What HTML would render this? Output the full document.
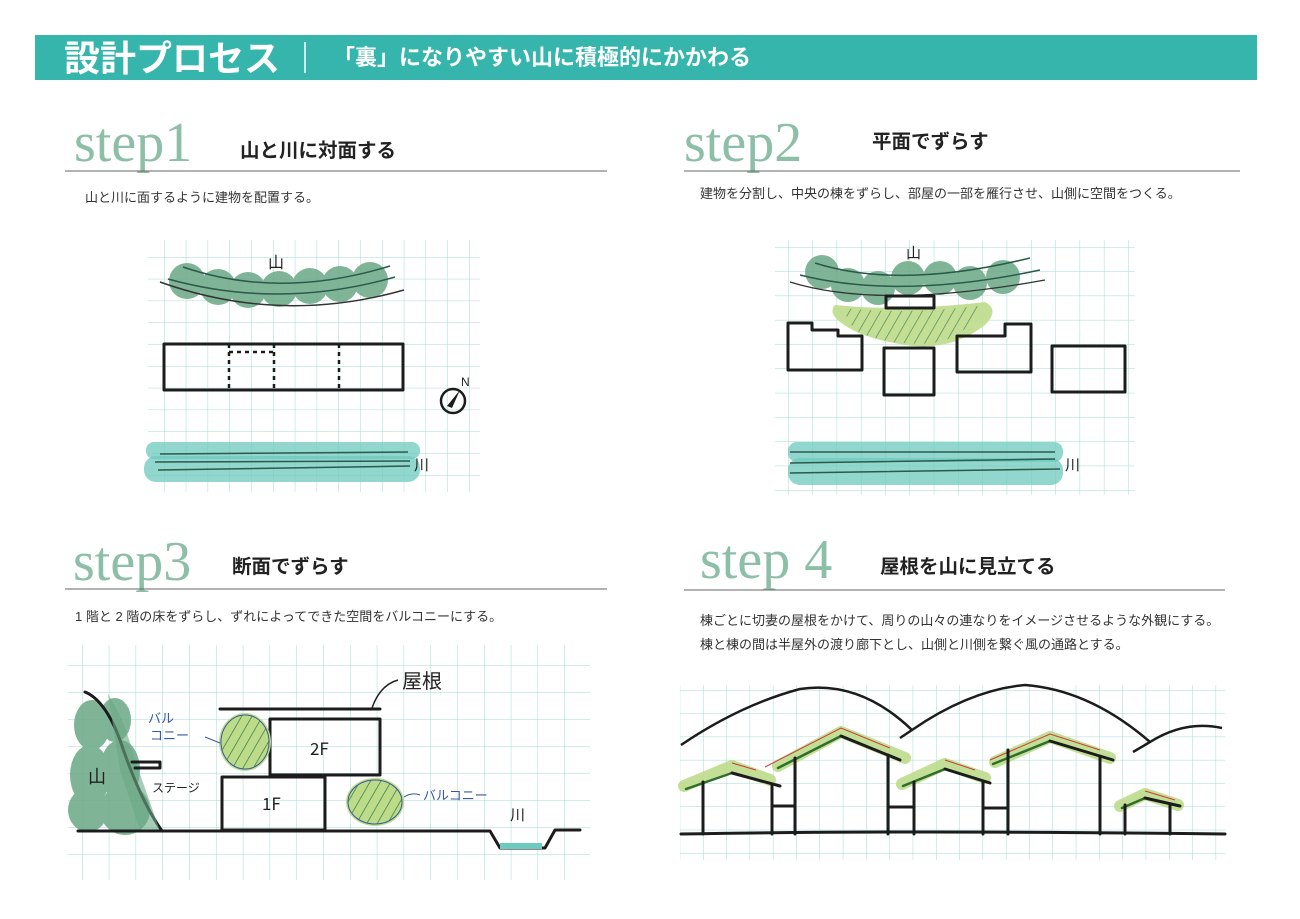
<!DOCTYPE html>
<html><head><meta charset="utf-8">
<style>
html,body{margin:0;padding:0;background:#fff;}
svg{display:block;}
text{font-family:"Liberation Sans","Noto Sans CJK JP",sans-serif;}
.st{font-family:"Liberation Serif","Noto Serif CJK SC",serif;fill:#8dbfa8;font-size:56px;}
.h{font-weight:bold;font-size:19.5px;fill:#222;}
.d{font-size:13px;fill:#333;}
.k{fill:none;stroke:#1c1c1c;stroke-width:3;stroke-linecap:round;stroke-linejoin:round;}
.t{fill:none;stroke:#2b5a4a;stroke-width:1.5;}
.hand{font-family:"Noto Sans CJK JP",sans-serif;}
</style></head><body>
<svg width="1300" height="919" viewBox="0 0 1300 919" xmlns="http://www.w3.org/2000/svg">
<defs>
<pattern id="g1" x="164" y="257" width="21.8" height="21.8" patternUnits="userSpaceOnUse"><path d="M0 0V21.8M0 0H21.8" stroke="#a6d8d6" stroke-width="1" fill="none"/></pattern>
<pattern id="g2" x="788" y="247" width="24.3" height="24.3" patternUnits="userSpaceOnUse"><path d="M0 0V24.3M0 0H24.3" stroke="#a6d8d6" stroke-width="1" fill="none"/></pattern>
<pattern id="g3" x="82" y="665" width="26.8" height="27" patternUnits="userSpaceOnUse"><path d="M0 0V27M0 0H26.8" stroke="#a6d8d6" stroke-width="1" fill="none"/></pattern>
<pattern id="g4" x="703" y="690" width="23.3" height="23.3" patternUnits="userSpaceOnUse"><path d="M0 0V23.3M0 0H23.3" stroke="#a6d8d6" stroke-width="1" fill="none"/></pattern>
<pattern id="hatch" width="9" height="9" patternUnits="userSpaceOnUse" patternTransform="rotate(30)"><line x1="0" y1="0" x2="0" y2="9" stroke="#3f7a45" stroke-width="1.5"/></pattern>
</defs>

<!-- header -->
<rect x="35" y="35" width="1222" height="45" fill="#35b5ac"/>
<text x="64" y="71" fill="#fff" font-weight="bold" font-size="36">設計プロセス</text>
<line x1="305" y1="42" x2="305" y2="73" stroke="#fff" stroke-width="1.5"/>
<text x="333" y="65" fill="#fff" font-weight="bold" font-size="22">「裏」になりやすい山に積極的にかかわる</text>

<!-- headings -->
<text class="st" x="74" y="161">step1</text>
<text class="h" x="240" y="157">山と川に対面する</text>
<line x1="65" y1="171" x2="607" y2="171" stroke="#666" stroke-width="1"/>
<text class="d" x="85" y="202">山と川に面するように建物を配置する。</text>

<text class="st" x="684" y="161">step2</text>
<text class="h" x="872" y="148">平面でずらす</text>
<line x1="684" y1="171" x2="1240" y2="171" stroke="#666" stroke-width="1"/>
<text class="d" x="700" y="198">建物を分割し、中央の棟をずらし、部屋の一部を雁行させ、山側に空間をつくる。</text>

<text class="st" x="73" y="580">step3</text>
<text class="h" x="232" y="573">断面でずらす</text>
<line x1="65" y1="589" x2="607" y2="589" stroke="#666" stroke-width="1"/>
<text class="d" x="75" y="621">1 階と 2 階の床をずらし、ずれによってできた空間をバルコニーにする。</text>

<text class="st" x="700" y="578">step 4</text>
<text class="h" x="880" y="573">屋根を山に見立てる</text>
<line x1="684" y1="590" x2="1225" y2="590" stroke="#666" stroke-width="1"/>
<text class="d" x="700" y="625">棟ごとに切妻の屋根をかけて、周りの山々の連なりをイメージさせるような外観にする。</text>
<text class="d" x="700" y="649">棟と棟の間は半屋外の渡り廊下とし、山側と川側を繋ぐ風の通路とする。</text>

<!-- grids -->
<rect x="148" y="240" width="332" height="252" fill="url(#g1)"/>
<rect x="775" y="240" width="360" height="255" fill="url(#g2)"/>
<rect x="68" y="645" width="522" height="235" fill="url(#g3)"/>
<rect x="680" y="685" width="545" height="175" fill="url(#g4)"/>

<!-- STEP1 -->
<g fill="#6aa885" opacity="0.85">
<circle cx="187" cy="281" r="18"/><circle cx="218" cy="287" r="18"/><circle cx="248" cy="290" r="18"/><circle cx="279" cy="289" r="18"/><circle cx="310" cy="286" r="18"/><circle cx="340" cy="284" r="18"/><circle cx="370" cy="280" r="18"/>
</g>
<path class="t" d="M183 267 Q280 300 390 266"/><path class="t" d="M168 279 Q280 310 395 277"/>
<path d="M160 282 Q280 325 404 290" stroke="#333" stroke-width="1.5" fill="none"/>
<text x="268" y="268" font-size="16" class="hand" fill="#222">山</text>
<rect x="164" y="344" width="239" height="46" class="k" stroke-width="2.5"/>
<g stroke="#1c1c1c" stroke-width="2.5" stroke-dasharray="4 4" fill="none"><path d="M229 344V390M274 344V390M339 344V390M229 352H274"/></g>
<circle cx="453" cy="401" r="12" fill="none" stroke="#1c1c1c" stroke-width="2.5"/>
<path d="M460 390 L452 408 L447 406 Z" fill="#1c1c1c"/>
<text x="461" y="386" font-size="12" fill="#222">N</text>
<rect x="146" y="442" width="274" height="17" rx="8" fill="#6ec9be" opacity="0.75"/>
<rect x="144" y="456" width="276" height="26" rx="12" fill="#6ec9be" opacity="0.75"/>
<path d="M160 454 L408 452 M155 462 L410 461 M158 470 L410 466" stroke="#2b5a4a" stroke-width="1.5" fill="none"/>
<text x="414" y="470" font-size="15" fill="#222" class="hand">川</text>

<!-- STEP2 -->
<g fill="#6aa885" opacity="0.85">
<circle cx="822" cy="272" r="17"/><circle cx="848" cy="285" r="17"/><circle cx="878" cy="288" r="17"/><circle cx="908" cy="278" r="17"/><circle cx="940" cy="278" r="17"/><circle cx="970" cy="283" r="17"/><circle cx="1003" cy="277" r="17"/>
</g>
<path class="t" d="M815 263 Q900 290 1030 258"/><path class="t" d="M800 275 Q900 300 1040 270"/>
<path d="M790 282 Q880 310 1045 280" stroke="#333" stroke-width="1.3" fill="none"/>
<text x="906" y="258" font-size="15" class="hand" fill="#222">山</text>
<path d="M835 305 Q900 312 985 302 Q1000 310 985 325 Q950 352 905 345 Q860 338 840 322 Q828 312 835 305 Z" fill="#bcdc8a" opacity="0.9"/>
<path d="M845 308 Q900 315 978 306 Q975 330 940 342 Q900 348 860 333 Q845 322 845 308 Z" fill="url(#hatch)" opacity="0.8"/>
<rect x="886" y="296" width="48" height="12" class="k" stroke-width="2.5" fill="#fff"/>
<path class="k" stroke-width="2.5" d="M788 323H812V330H838V336H862V370H788Z"/>
<rect x="884" y="348" width="50" height="47" class="k" stroke-width="2.5"/>
<path class="k" stroke-width="2.5" d="M957 336H1005V324H1031V372H957Z"/>
<rect x="1052" y="346" width="73" height="46" class="k" stroke-width="2.5"/>
<rect x="788" y="442" width="275" height="20" rx="9" fill="#6ec9be" opacity="0.75"/>
<rect x="788" y="458" width="275" height="27" rx="12" fill="#6ec9be" opacity="0.75"/>
<path d="M790 452 L1055 452 M790 463 L1055 459 M790 473 L1060 469" stroke="#2b5a4a" stroke-width="1.5" fill="none"/>
<text x="1065" y="470" font-size="15" fill="#222" class="hand">川</text>

<!-- STEP3 -->
<g fill="#6aa885" opacity="0.85">
<ellipse cx="92" cy="725" rx="18" ry="25"/><ellipse cx="115" cy="720" rx="16" ry="22"/><ellipse cx="90" cy="775" rx="20" ry="30"/><ellipse cx="120" cy="770" rx="20" ry="30"/><ellipse cx="88" cy="810" rx="20" ry="22"/><ellipse cx="125" cy="810" rx="25" ry="25"/>
</g>
<path d="M85 692 Q105 700 120 740 Q140 800 162 831" class="k"/>
<path d="M108 694 Q125 720 135 760 L160 831 L140 831 L120 770 Z" fill="#6aa885" opacity="0.6"/>
<text x="88" y="783" font-size="18" class="hand" fill="#222">山</text>
<path d="M132 762H160V768H135" class="k" stroke-width="2.5"/>
<text x="152" y="792" font-size="12" class="hand" fill="#222">ステージ</text>
<line x1="220" y1="709" x2="380" y2="709" class="k"/>
<path d="M372 708 Q380 685 398 680" fill="none" stroke="#222" stroke-width="1.5"/>
<text x="402" y="688" font-size="20" class="hand" fill="#222">屋根</text>
<rect x="270" y="719" width="110" height="56" class="k"/>
<text x="310" y="755" font-size="17" class="hand" fill="#222">2F</text>
<rect x="222" y="777" width="103" height="53" class="k"/>
<text x="262" y="810" font-size="17" class="hand" fill="#222">1F</text>
<ellipse cx="245" cy="742" rx="26" ry="29" fill="#bcdc8a"/><ellipse cx="245" cy="742" rx="24" ry="27" fill="url(#hatch)" stroke="#3a58a0" stroke-width="1"/>
<ellipse cx="375" cy="802" rx="29" ry="24" fill="#bcdc8a"/><ellipse cx="375" cy="802" rx="27" ry="22" fill="url(#hatch)" stroke="#3a58a0" stroke-width="1"/>
<text x="148" y="723" font-size="13" class="hand" fill="#3a58a0">バル</text>
<text x="150" y="740" font-size="13" class="hand" fill="#3a58a0">コニー</text>
<path d="M205 737 L220 743" stroke="#3a58a0" stroke-width="1"/>
<path d="M404 797 Q412 792 420 795" stroke="#3a58a0" stroke-width="1" fill="none"/>
<text x="423" y="800" font-size="13" class="hand" fill="#3a58a0">バルコニー</text>
<path class="k" d="M78 831H490L500 848H545L555 830H580"/>
<rect x="500" y="843" width="42" height="6" fill="#6ec9be"/>
<text x="510" y="820" font-size="15" class="hand" fill="#222">川</text>

<!-- STEP4 -->
<path d="M681 745 Q740 705 800 689 Q860 680 912 730" stroke="#1c1c1c" stroke-width="2.5" fill="none"/>
<path d="M900 738 L912 730 Q970 690 1025 685 Q1090 690 1150 742" stroke="#1c1c1c" stroke-width="2.5" fill="none"/>
<path d="M1133 752 L1150 742 Q1185 720 1222 728" stroke="#1c1c1c" stroke-width="2.5" fill="none"/>
<g stroke="#bcdc8a" stroke-width="12" fill="none" stroke-linecap="round" stroke-linejoin="round" opacity="0.9">
<path d="M684 786 L732 766 L770 780 M778 766 L841 732 L905 758"/>
<path d="M902 784 L945 764 L985 778 M995 762 L1050 737 L1110 758"/>
<path d="M1120 806 L1145 794 L1178 805"/>
</g>
<g stroke="#cc3b3b" stroke-width="1" fill="none">
<path d="M732 763 L756 770 M765 767 L841 728 L890 748 M945 760 L975 770 M990 760 L1050 734 L1100 750 M1145 791 L1175 800"/>
</g>
<g stroke="#2f6e2c" stroke-width="2.5" fill="none" stroke-linecap="round">
<path d="M686 789 L732 773 M778 768 L841 736 M903 786 L945 769 M993 764 L1050 741 M1122 808 L1145 798"/>
</g>
<g class="k" stroke-width="2.5">
<path d="M732 773 L780 786 M841 736 L900 760 M945 769 L990 783 M1050 741 L1113 760 M1145 798 L1180 806"/>
<path d="M703 782V834 M772 785V834 M795 758V834 M888 755V834 M914 782V834 M983 782V834 M1008 750V834 M1100 757V834 M1125 805V834 M1170 805V834"/>
<path d="M772 806H795 M888 807H912 M983 808H1006"/>
<path d="M681 834 Q900 830 1225 834"/>
</g>
</svg>
</body></html>
